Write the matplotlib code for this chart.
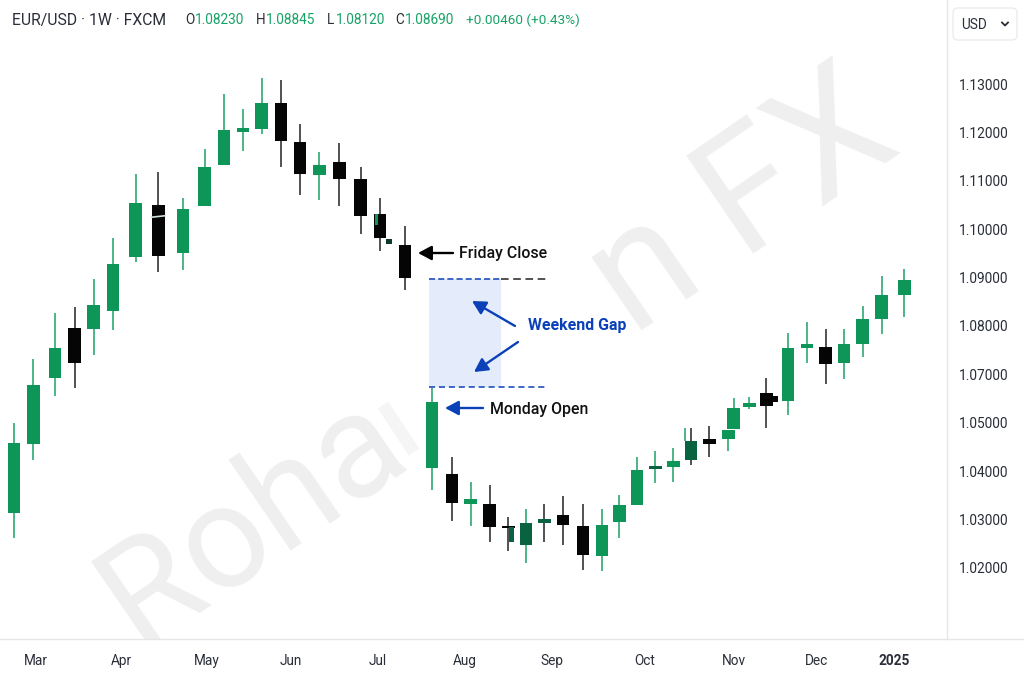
"""EUR/USD weekly candles with the weekend gap marked."""

import numpy as np
import matplotlib

matplotlib.use("Agg")
import matplotlib.pyplot as plt
from matplotlib.lines import Line2D
from matplotlib.patches import FancyBboxPatch
from matplotlib.ticker import NullLocator
from matplotlib.transforms import ScaledTranslation

plt.rcParams["font.family"] = ["Roboto", "DejaVu Sans"]

GREEN = "#0e9659"
GREEN_TEXT = "#17a268"
GREEN_WICK = "#2fa873"
DARK_GREEN = "#0a6340"
BLACK = "#050505"
BLACK_WICK = "#333333"
BLUE = "#0b41b8"
INK = "#2a2e39"
WATERMARK = "#efefef"

weeks = [0.73, 1.73, 2.86, 3.89, 4.88, 5.89, 7.07, 8.24, 9.53, 10.66, 11.67, 12.66,
         13.63, 14.64, 15.63, 16.63, 17.67, 18.79, 19.79, 21.09, 22.5, 23.54, 24.52,
         25.51, 26.47, 27.4, 28.35, 29.32, 30.36, 31.35, 32.26, 33.18, 34.13, 35.07,
         35.99, 36.94, 37.93, 38.21, 39.03, 39.91, 41.04, 42.03, 43.0, 43.96, 44.93,
         45.92, 47.1]
opens = [1.0315, 1.0459, 1.0688, 1.0797, 1.0795, 1.0834, 1.0944, 1.1052, 1.0954, 1.1050,
         1.1134, 1.1204, 1.1210, 1.1263, 1.1182, 1.1114, 1.1141, 1.1105, 1.1034, 1.0969,
         1.0408, 1.0397, 1.0335, 1.0335, 1.0289, 1.0250, 1.0295, 1.0311, 1.0289, 1.0227,
         1.0297, 1.0331, 1.0406, 1.0411, 1.0425, 1.0469, 1.0468, 1.0489, 1.0568, 1.0628,
         1.0593, 1.0757, 1.0759, 1.0725, 1.0765, 1.0817, 1.0866]
closes = [1.0460, 1.0662, 1.0756, 1.0725, 1.0846, 1.0930, 1.1056, 1.0947, 1.1044, 1.1131,
          1.1207, 1.1211, 1.1263, 1.1184, 1.1117, 1.1134, 1.1106, 1.1030, 1.0985, 1.0902,
          1.0590, 1.0337, 1.0345, 1.0287, 1.0285, 1.0295, 1.0304, 1.0291, 1.0229, 1.0291,
          1.0331, 1.0404, 1.0412, 1.0422, 1.0464, 1.0459, 1.0488, 1.0565, 1.0586, 1.0574,
          1.0756, 1.0764, 1.0724, 1.0764, 1.0817, 1.0867, 1.0898]
highs = [1.0505, 1.0734, 1.0828, 1.0842, 1.0899, 1.0984, 1.1116, 1.1120, 1.1066, 1.1168,
         1.1281, 1.1250, 1.1314, 1.1310, 1.1220, 1.1162, 1.1180, 1.1131, 1.1066, 1.1009,
         1.0646, 1.0432, 1.0379, 1.0373, 1.0308, 1.0324, 1.0335, 1.0350, 1.0335, 1.0324,
         1.0353, 1.0432, 1.0444, 1.0450, 1.0491, 1.0496, 1.0488, 1.0605, 1.0610, 1.0691,
         1.0787, 1.0810, 1.0796, 1.0796, 1.0843, 1.0906, 1.0919]
lows = [1.0263, 1.0426, 1.0614, 1.0648, 1.0743, 1.0794, 1.0934, 1.0913, 1.0918, 1.1050,
        1.1134, 1.1164, 1.1199, 1.1131, 1.1073, 1.1062, 1.1050, 1.0992, 1.0958, 1.0876,
        1.0364, 1.0298, 1.0289, 1.0256, 1.0236, 1.0213, 1.0255, 1.0250, 1.0198, 1.0195,
        1.0263, 1.0331, 1.0377, 1.0380, 1.0415, 1.0432, 1.0444, 1.0489, 1.0560, 1.0491,
        1.0537, 1.0726, 1.0666, 1.0685, 1.0739, 1.0786, 1.0821]

# candles that came out darker, and green ones with a black wick
dark_bodies = [25, 26, 32, 34]
black_wicks = [26, 34]

# stray small pieces next to some candles: x, top, bottom, width, colour
stray_x = [19.61, 20.26, 26.63, 40.36]
stray_top = [1.1034, 1.0982, 1.0287, 1.0614]
stray_bottom = [1.1010, 1.0971, 1.0255, 1.0590]
stray_width = [0.17, 0.3, 0.27, 0.3]
stray_color = [GREEN, "#0c3b28", DARK_GREEN, BLACK]

friday_close = 1.0900
monday_open = 1.0651
gap_weeks = (22.34, 26.09)
dash_end = 28.44

month_weeks = [1.88, 6.3, 10.78, 15.16, 19.69, 24.22, 28.75, 33.59, 38.23, 42.5, 46.56]
month_labels = ["Mar", "Apr", "May", "Jun", "Jul", "Aug", "Sep", "Oct", "Nov", "Dec", "2025"]
price_ticks = [1.02, 1.03, 1.04, 1.05, 1.07, 1.08, 1.09, 1.10, 1.11, 1.12, 1.13]

# The price labels skip 1.06, so the scale runs through them at even spacing
anchor_prices = [1.00, 1.02, 1.03, 1.04, 1.05, 1.07, 1.08, 1.09, 1.10, 1.11, 1.12, 1.13, 1.15]
anchor_levels = [-2, 0, 1, 2, 3, 4, 5, 6, 7, 8, 9, 10, 12]


def forward(values):
    return np.interp(values, anchor_prices, anchor_levels)


def inverse(levels):
    return np.interp(levels, anchor_levels, anchor_prices)


def px(x, y):
    """Figure fraction for a pixel position measured from the top left."""
    return x / 1024, 1 - y / 683


fig = plt.figure(figsize=(10.24, 6.83), dpi=100, facecolor="white")
ax = fig.add_axes([0, 44 / 683, 947 / 1024, 639 / 683])
ax.set_facecolor("none")
ax.set_yscale("function", functions=(forward, inverse))
ax.set_xlim(0, 947 / 19.2)
ax.set_ylim(1.0055, 1.1476)

# Watermark sits under everything else, its middle is washed out in the source
for label, x, y, size in [("Roha", 138, 647, 105), ("n FX", 633, 337, 120)]:
    xf, yf = px(x, y)
    ax.text(xf, yf, label, fontsize=size, color=WATERMARK, rotation=34.5, rotation_mode="anchor",
            ha="left", va="baseline", transform=fig.transFigure, clip_on=True, zorder=0)
fig.add_artist(Line2D([px(383, 0)[0], px(414, 0)[0]], [px(0, 405)[1], px(0, 452)[1]],
                      color="#f5f5f5", lw=9, solid_capstyle="butt", zorder=-1))

# Weekend gap
ax.fill_between(gap_weeks, monday_open, friday_close, color="#e4ebfb", lw=0, zorder=1)
ax.plot([gap_weeks[1], dash_end], [friday_close] * 2, color="#222222", lw=1.1,
        dashes=(5, 3), zorder=2)
ax.plot(gap_weeks, [friday_close] * 2, color=BLUE, lw=1.1, dashes=(4, 2), zorder=3)
ax.plot([gap_weeks[0], dash_end], [monday_open] * 2, color=BLUE, lw=1.1, dashes=(4, 2.5), zorder=3)

# Candles
for i, week in enumerate(weeks):
    up = closes[i] >= opens[i]
    wick = GREEN_WICK if up else BLACK_WICK
    body = GREEN if up else BLACK
    if i in dark_bodies:
        body = DARK_GREEN
    if i in black_wicks:
        wick = BLACK_WICK
    ax.vlines(week, lows[i], highs[i], color=wick, lw=1.2, zorder=4)
    ax.bar(week, abs(closes[i] - opens[i]), bottom=min(opens[i], closes[i]), width=0.66,
           color=body, lw=0, zorder=5)

for x, top, bottom, width, color in zip(stray_x, stray_top, stray_bottom, stray_width, stray_color):
    ax.bar(x, top - bottom, bottom=bottom, width=width, color=color, lw=0, zorder=6)

# Second green wick beside the dark candle near November, white scratch on the April one
ax.vlines(35.66, 1.0464, 1.0491, color=GREEN_WICK, lw=1.2, zorder=4)
ax.plot([7.9, 8.6], [1.1027, 1.1030], color="#cfe3d9", lw=1.2, zorder=7)

# Axes frame
for name in ("top", "left", "bottom"):
    ax.spines[name].set_visible(False)
ax.spines["right"].set_color("#e6e6e6")
ax.spines["right"].set_linewidth(1)
ax.yaxis.tick_right()
ax.set_yticks(price_ticks, [f"{p:.5f}" for p in price_ticks])
ax.yaxis.set_minor_locator(NullLocator())
ax.tick_params(axis="y", length=0, pad=8.5, labelsize=9.9, labelcolor=INK)
ax.set_xticks(month_weeks, month_labels)
ax.tick_params(axis="x", length=0, pad=10.5, labelsize=9.8, labelcolor=INK)
ax.get_xticklabels()[-1].set_fontweight("bold")
lift = ScaledTranslation(0, 1 / 100, fig.dpi_scale_trans)
for tick_label in ax.get_yticklabels():
    tick_label.set_transform(tick_label.get_transform() + lift)
fig.add_artist(Line2D([0, 1], [px(0, 639)[1]] * 2, color="#e6e6e6", lw=1))

# Annotations
arrow_specs = [
    ((453, 253), (418, 253), "#000000"),
    ((515, 326), (472, 301), BLUE),
    ((518, 342), (474, 372), BLUE),
    ((483, 408), (445, 408), BLUE),
]
for start, end, color in arrow_specs:
    ax.annotate("", xy=px(*end), xytext=px(*start), xycoords="figure fraction",
                textcoords="figure fraction", zorder=8,
                arrowprops=dict(arrowstyle="-|>,head_length=0.58,head_width=0.31", color=color,
                                lw=1.7, shrinkA=0, shrinkB=0, mutation_scale=14))

for label, x, y, color in [("Friday Close", 459, 254, "#111111"),
                           ("Weekend Gap", 528, 326, BLUE),
                           ("Monday Open", 490, 409.5, "#111111")]:
    xf, yf = px(x, y)
    fig.text(xf, yf, label, fontsize=11.4, color=color, va="center", ha="left",
             fontweight="bold" if color == BLUE else "medium")

# Header line
header = [("EUR/USD · 1W · FXCM", 12, INK, 11.3), ("O", 185, INK, 9.8), ("1.08230", 195, GREEN_TEXT, 9.8),
          ("H", 256, INK, 9.8), ("1.08845", 266, GREEN_TEXT, 9.8), ("L", 327, INK, 9.8),
          ("1.08120", 336, GREEN_TEXT, 9.8), ("C", 395, INK, 9.8), ("1.08690", 405, GREEN_TEXT, 9.8),
          ("+0.00460 (+0.43%)", 466, GREEN_TEXT, 9.7)]
for label, x, color, size in header:
    xf, yf = px(x, 20.5)
    fig.text(xf, yf, label, fontsize=size, color=color, va="center", ha="left")

# Currency selector
fig.add_artist(FancyBboxPatch((953, 683 - 40), 64, 32, boxstyle="round,pad=0,rounding_size=5",
                              transform=None, fc="white", ec="#ececec", lw=1))
xf, yf = px(961, 25)
fig.text(xf, yf, "USD", fontsize=9.8, color=INK, va="center", ha="left")
chevron_x = [px(1002, 0)[0], px(1005, 0)[0], px(1008, 0)[0]]
chevron_y = [px(0, 22.5)[1], px(0, 25.5)[1], px(0, 22.5)[1]]
fig.add_artist(Line2D(chevron_x, chevron_y, color=INK, lw=1.3))

fig.savefig("out.png", dpi=100)
plt.close(fig)
